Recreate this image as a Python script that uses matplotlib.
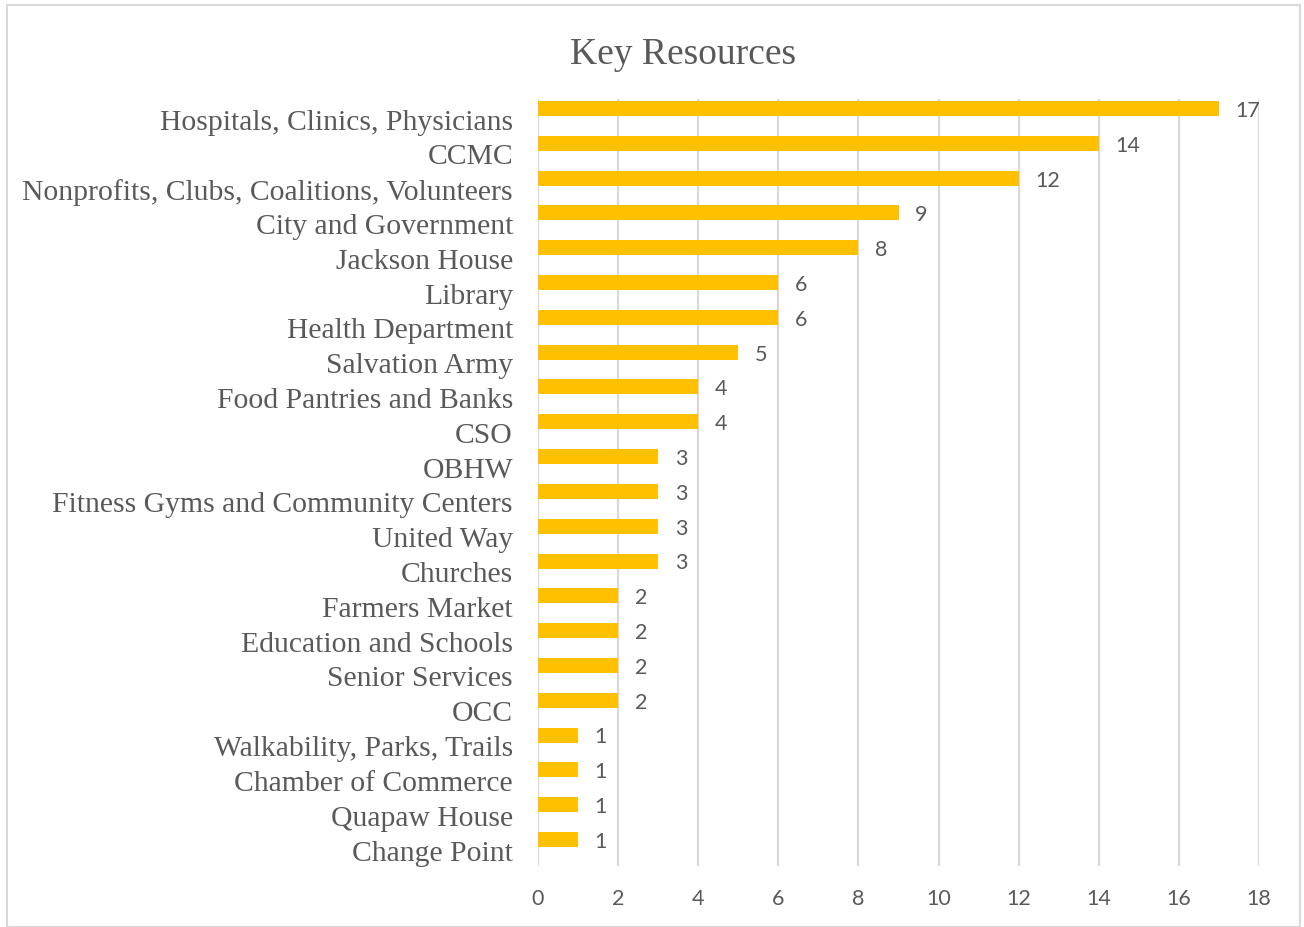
import matplotlib
matplotlib.use("Agg")
import matplotlib.pyplot as plt
import matplotlib.transforms as mtransforms
from matplotlib.patches import Rectangle
import numpy as np

categories = ["Hospitals, Clinics, Physicians", "CCMC", "Nonprofits, Clubs, Coalitions, Volunteers",
              "City and Government", "Jackson House", "Library", "Health Department", "Salvation Army",
              "Food Pantries and Banks", "CSO", "OBHW", "Fitness Gyms and Community Centers",
              "United Way", "Churches", "Farmers Market", "Education and Schools", "Senior Services",
              "OCC", "Walkability, Parks, Trails", "Chamber of Commerce", "Quapaw House", "Change Point"]
values = [17, 14, 12, 9, 8, 6, 6, 5, 4, 4, 3, 3, 3, 3, 2, 2, 2, 2, 1, 1, 1, 1]
x_ticks = [0, 2, 4, 6, 8, 10, 12, 14, 16, 18]
title = "Key Resources"

TEXT = "#595959"
GRID = "#D9D9D9"
BAR = "#FFC000"

W, H = 1304, 928
fig = plt.figure(figsize=(W / 100, H / 100), dpi=100)
ax = fig.add_axes([538 / W, 1 - 867 / H, (1259 - 538) / W, (867 - 100) / H])

y = np.arange(len(categories))
ax.barh(y, values, height=0.43, color=BAR, zorder=3)

ax.set_xlim(0, 18)
ax.set_ylim(21.761, -0.273)
ax.set_xticks(x_ticks)
ax.set_xticklabels([str(t) for t in x_ticks], fontfamily="Lato", fontsize=15.5, color=TEXT)
ax.set_yticks(y)
ax.set_yticklabels([])
ax.tick_params(axis="both", length=0)
ax.tick_params(axis="x", pad=16)
ax.grid(axis="x", color=GRID, linewidth=1.6, zorder=0)
for s in ax.spines.values():
    s.set_visible(False)

# category labels: right-aligned 25 px left of the axis, shifted ~13 px below bar centres
lab_tr = mtransforms.blended_transform_factory(ax.transAxes, ax.transData) + \
    mtransforms.ScaledTranslation(-25 / 100, -13 / 100, fig.dpi_scale_trans)
for yi, c in zip(y, categories):
    ax.text(0, yi, c, transform=lab_tr, ha="right", va="center",
            fontfamily="Liberation Serif", fontsize=21.3, color=TEXT)

for yi, v in zip(y, values):
    ax.annotate(str(v), (v, yi), xytext=(12, -1), textcoords="offset points",
                ha="left", va="center", fontfamily="Lato", fontsize=15.5, color=TEXT)

fig.text(683 / W, 1 - 55 / H, title, ha="center", va="center",
         fontfamily="Liberation Serif", fontsize=27, color=TEXT)

fig.patches.append(Rectangle((7 / W, 0), (1300 - 7) / W, 1 - 6 / H, transform=fig.transFigure,
                             fill=False, edgecolor=GRID, linewidth=1.5))

fig.savefig("out.png", dpi=100)
